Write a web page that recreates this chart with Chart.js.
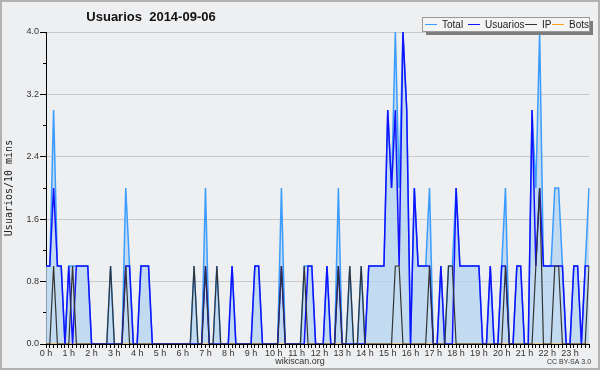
<!DOCTYPE html>
<html>
<head>
<meta charset="utf-8">
<script src="https://cdn.jsdelivr.net/npm/chart.js@4.4.1/dist/chart.umd.min.js"></script>
<style>
  html, body { margin: 0; padding: 0; background: #eeeff1; }
</style>
</head>
<body>
<canvas id="grafico" width="600" height="370"></canvas>
<script>
// Etiquetas de las horas (eje x) y franjas de 10 minutos
const horas = ['0 h', '1 h', '2 h', '3 h', '4 h', '5 h', '6 h', '7 h', '8 h', '9 h', '10 h', '11 h',
  '12 h', '13 h', '14 h', '15 h', '16 h', '17 h', '18 h', '19 h', '20 h', '21 h', '22 h', '23 h'];
const minutos = ['00', '10', '20', '30', '40', '50'];
const franjas = horas.flatMap((h, i) => minutos.map(m => i + ':' + m));

// Valores, uno por franja de 10 minutos
const total = [
  1, 1, 3, 1, 1, 0, 1, 1, 1, 1, 1, 1,
  0, 0, 0, 0, 0, 1, 0, 0, 0, 2, 1, 0,
  0, 1, 1, 1, 0, 0, 0, 0, 0, 0, 0, 0,
  0, 0, 0, 1, 0, 0, 2, 0, 0, 1, 0, 0,
  0, 1, 0, 0, 0, 0, 0, 1, 1, 0, 0, 0,
  0, 0, 2, 0, 0, 0, 0, 0, 1, 1, 1, 0,
  0, 0, 1, 0, 0, 2, 0, 0, 1, 0, 0, 1,
  0, 1, 1, 1, 1, 1, 3, 2, 4, 2, 4, 3,
  0, 2, 1, 1, 1, 2, 0, 0, 1, 0, 1, 1,
  2, 1, 1, 1, 1, 1, 1, 0, 0, 1, 0, 0,
  1, 2, 0, 0, 1, 1, 0, 0, 3, 2, 4, 1,
  1, 1, 2, 2, 1, 0, 0, 1, 1, 0, 1, 2
];
const usuarios = [
  1, 1, 2, 1, 1, 0, 1, 0, 1, 1, 1, 1,
  0, 0, 0, 0, 0, 0, 0, 0, 0, 1, 1, 0,
  0, 1, 1, 1, 0, 0, 0, 0, 0, 0, 0, 0,
  0, 0, 0, 0, 0, 0, 1, 0, 0, 0, 0, 0,
  0, 1, 0, 0, 0, 0, 0, 1, 1, 0, 0, 0,
  0, 0, 1, 0, 0, 0, 0, 0, 0, 1, 1, 0,
  0, 0, 1, 0, 0, 1, 0, 0, 0, 0, 0, 0,
  0, 1, 1, 1, 1, 1, 3, 2, 3, 1, 4, 3,
  0, 2, 1, 1, 1, 1, 0, 0, 1, 0, 0, 0,
  2, 1, 1, 1, 1, 1, 1, 0, 0, 1, 0, 0,
  1, 1, 0, 0, 1, 1, 0, 0, 3, 1, 2, 1,
  1, 1, 1, 1, 1, 0, 0, 1, 1, 0, 1, 1
];
const ip = [
  0, 0, 1, 0, 0, 0, 0, 1, 0, 0, 0, 0,
  0, 0, 0, 0, 0, 1, 0, 0, 0, 1, 0, 0,
  0, 0, 0, 0, 0, 0, 0, 0, 0, 0, 0, 0,
  0, 0, 0, 1, 0, 0, 1, 0, 0, 1, 0, 0,
  0, 0, 0, 0, 0, 0, 0, 0, 0, 0, 0, 0,
  0, 0, 1, 0, 0, 0, 0, 0, 1, 0, 0, 0,
  0, 0, 0, 0, 0, 1, 0, 0, 1, 0, 0, 1,
  0, 0, 0, 0, 0, 0, 0, 0, 1, 1, 0, 0,
  0, 0, 0, 0, 0, 1, 0, 0, 0, 0, 1, 1,
  0, 0, 0, 0, 0, 0, 0, 0, 0, 0, 0, 0,
  0, 1, 0, 0, 0, 0, 0, 0, 0, 1, 2, 0,
  0, 0, 1, 1, 0, 0, 0, 0, 0, 0, 0, 1
];
const bots = [
  0, 0, 0, 0, 0, 0, 0, 0, 0, 0, 0, 0,
  0, 0, 0, 0, 0, 0, 0, 0, 0, 0, 0, 0,
  0, 0, 0, 0, 0, 0, 0, 0, 0, 0, 0, 0,
  0, 0, 0, 0, 0, 0, 0, 0, 0, 0, 0, 0,
  0, 0, 0, 0, 0, 0, 0, 0, 0, 0, 0, 0,
  0, 0, 0, 0, 0, 0, 0, 0, 0, 0, 0, 0,
  0, 0, 0, 0, 0, 0, 0, 0, 0, 0, 0, 0,
  0, 0, 0, 0, 0, 0, 0, 0, 0, 0, 0, 0,
  0, 0, 0, 0, 0, 0, 0, 0, 0, 0, 0, 0,
  0, 0, 0, 0, 0, 0, 0, 0, 0, 0, 0, 0,
  0, 0, 0, 0, 0, 0, 0, 0, 0, 0, 0, 0,
  0, 0, 0, 0, 0, 0, 0, 0, 0, 0, 0, 0
];

const colores = { total: '#3a9cff', usuarios: '#1212ff', ip: '#333333', bots: '#ffa31a' };
const series = [
  { nombre: 'Total', color: colores.total },
  { nombre: 'Usuarios', color: colores.usuarios },
  { nombre: 'IP', color: colores.ip },
  { nombre: 'Bots', color: colores.bots }
];

// Fondo y marco de la imagen
const fondo = {
  id: 'fondo',
  beforeDraw(chart) {
    const ctx = chart.ctx;
    ctx.save();
    ctx.fillStyle = '#eeeff1';
    ctx.fillRect(0, 0, chart.width, chart.height);
    ctx.strokeStyle = '#b2b2b2';
    ctx.lineWidth = 2;
    ctx.strokeRect(1, 1, chart.width - 2, chart.height - 2);
    ctx.restore();
  }
};

// Titulo, leyenda y textos del pie
const textos = {
  id: 'textos',
  afterDraw(chart) {
    const ctx = chart.ctx;
    ctx.save();
    ctx.fillStyle = '#111';
    ctx.font = 'bold 13px "Liberation Sans", sans-serif';
    ctx.textAlign = 'center';
    ctx.textBaseline = 'middle';
    ctx.fillText('Usuarios  2014-09-06', 151, 17);

    // caja de la leyenda con sombra
    ctx.fillStyle = '#7d7d7d';
    ctx.fillRect(426, 21, 167, 14);
    ctx.fillStyle = '#f4f4f5';
    ctx.fillRect(422, 17.5, 167, 14);
    ctx.strokeStyle = '#999';
    ctx.lineWidth = 1;
    ctx.strokeRect(422.5, 17.5, 167, 14);

    const posiciones = [425, 468, 525, 552];
    ctx.font = '10px "Liberation Sans", sans-serif';
    ctx.textAlign = 'left';
    series.forEach((s, i) => {
      const x = posiciones[i];
      ctx.strokeStyle = s.color;
      ctx.lineWidth = 1;
      ctx.beginPath();
      ctx.moveTo(x, 24.5);
      ctx.lineTo(x + 12, 24.5);
      ctx.stroke();
      ctx.fillStyle = '#222';
      ctx.fillText(s.nombre, x + 17, 25);
    });

    ctx.fillStyle = '#333';
    ctx.textAlign = 'center';
    ctx.font = '9px "Liberation Sans", sans-serif';
    ctx.fillText('wikiscan.org', 300, 362);
    ctx.font = '7px "Liberation Sans", sans-serif';
    ctx.fillText('CC BY-SA 3.0', 569, 362);
    ctx.restore();
  }
};

const ctx = document.getElementById('grafico').getContext('2d');
new Chart(ctx, {
  type: 'line',
  data: {
    labels: franjas,
    datasets: [
      {
        label: 'Total',
        data: total,
        borderColor: colores.total,
        backgroundColor: 'rgba(180, 212, 240, 0.75)',
        fill: 'origin',
        borderWidth: 1.5,
        order: 4
      },
      {
        label: 'Bots',
        data: bots,
        borderColor: colores.bots,
        borderWidth: 1,
        order: 3
      },
      {
        label: 'Usuarios',
        data: usuarios,
        borderColor: colores.usuarios,
        borderWidth: 1.5,
        order: 2
      },
      {
        label: 'IP',
        data: ip,
        borderColor: colores.ip,
        borderWidth: 1.2,
        order: 1
      }
    ]
  },
  options: {
    responsive: false,
    animation: false,
    devicePixelRatio: 1,
    elements: {
      point: { radius: 0 },
      line: { tension: 0 }
    },
    layout: { padding: { top: 32, right: 11, left: 0, bottom: 0 } },
    plugins: {
      legend: { display: false },
      title: { display: false },
      tooltip: { enabled: false }
    },
    scales: {
      x: {
        offset: false,
        grid: {
          drawOnChartArea: false,
          tickLength: 4,
          tickColor: '#000'
        },
        border: { color: '#000', width: 1 },
        ticks: {
          autoSkip: false,
          maxRotation: 0,
          padding: 0,
          color: '#333',
          font: { family: 'Liberation Sans', size: 9 },
          callback: (v, i) => (i % 6 === 0 ? horas[i / 6] : '')
        },
        afterFit: s => { s.height = 26; }
      },
      y: {
        weight: 1,
        min: 0,
        max: 4,
        grid: {
          color: '#c9c9cb',
          tickLength: 6,
          tickColor: '#000'
        },
        border: { color: '#000', width: 1 },
        ticks: {
          stepSize: 0.8,
          padding: 1,
          color: '#333',
          font: { family: 'Liberation Sans', size: 9 },
          callback: v => v.toFixed(1)
        },
        title: {
          display: true,
          text: 'Usuarios/10 mins',
          color: '#222',
          padding: 3,
          font: { family: 'DejaVu Sans Mono', size: 10 }
        },
        afterFit: s => { s.width = 46; }
      },
      yMenor: {
        position: 'left',
        weight: 0,
        min: 0,
        max: 4,
        grid: {
          drawOnChartArea: false,
          tickLength: 3,
          tickColor: '#000'
        },
        border: { display: false },
        ticks: { stepSize: 0.2, callback: () => '' },
        afterFit: s => { s.width = 0; }
      }
    }
  },
  plugins: [fondo, textos]
});
</script>
</body>
</html>
